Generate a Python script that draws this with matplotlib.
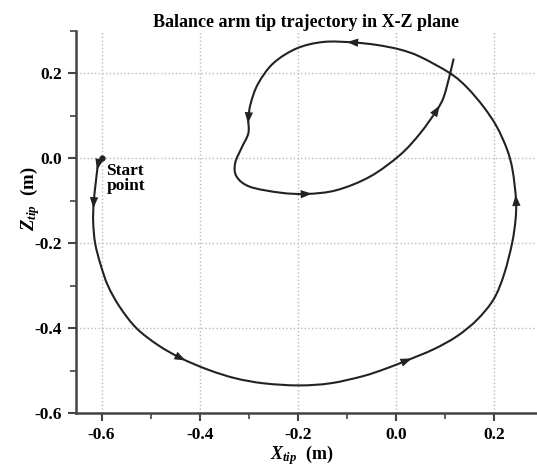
import matplotlib
matplotlib.use("Agg")
import matplotlib.pyplot as plt
import numpy as np
from matplotlib.path import Path
from matplotlib.patches import PathPatch, FancyArrowPatch
from matplotlib.ticker import MultipleLocator, FormatStrFormatter

# trajectory of the balance arm tip (m)
x_tip = [-0.600, -0.607, -0.612, -0.616, -0.617, -0.613, -0.602, -0.587,
         -0.563, -0.529, -0.485, -0.438, -0.383, -0.328, -0.270, -0.199,
         -0.134, -0.067, -0.020, 0.022, 0.076, 0.124, 0.165, 0.199,
         0.220, 0.236, 0.243, 0.244, 0.237, 0.226, 0.205, 0.178,
         0.144, 0.110, 0.049, 0.008, -0.040, -0.090, -0.148, -0.202,
         -0.250, -0.281, -0.296, -0.301, -0.301, -0.315, -0.328, -0.325,
         -0.298, -0.236, -0.182, -0.121, -0.053, 0.008, 0.049, 0.083,
         0.097, 0.110, 0.117]
z_tip = [0.000, -0.016, -0.060, -0.106, -0.150, -0.200, -0.250, -0.300,
         -0.350, -0.400, -0.440, -0.471, -0.498, -0.518, -0.530, -0.535,
         -0.530, -0.513, -0.495, -0.476, -0.450, -0.419, -0.380, -0.331,
         -0.272, -0.200, -0.145, -0.098, -0.028, 0.020, 0.074, 0.121,
         0.167, 0.200, 0.239, 0.256, 0.267, 0.273, 0.274, 0.259,
         0.224, 0.176, 0.130, 0.094, 0.059, 0.024, -0.012, -0.043,
         -0.067, -0.081, -0.084, -0.075, -0.043, 0.008, 0.059, 0.114,
         0.145, 0.200, 0.235]
# indices of the points where direction arrows sit
arrow_idx = [1, 3, 11, 19, 27, 37, 43, 50, 55]

x_ticks = [-0.6, -0.4, -0.2, 0.0, 0.2]
z_ticks = [-0.6, -0.4, -0.2, 0.0, 0.2]

plt.rcParams["font.family"] = ["Liberation Serif", "DejaVu Serif"]
plt.rcParams["font.weight"] = "bold"
plt.rcParams["axes.unicode_minus"] = False
plt.rcParams["mathtext.fontset"] = "custom"
plt.rcParams["mathtext.it"] = "Liberation Serif:italic:bold"
plt.rcParams["mathtext.rm"] = "Liberation Serif:bold"

fig = plt.figure(figsize=(5.37, 4.66), dpi=100)
ax = fig.add_axes([0.1415, 0.1137, 0.856, 0.82])
ax.set_xlim(-0.652, 0.284)
ax.set_ylim(-0.6, 0.3)

line_col = "#222222"

# smooth curve through the read points (Catmull-Rom as cubic Bezier segments)
pts = np.column_stack([x_tip, z_tip])
ext = np.vstack([pts[0], pts, pts[-1]])
verts = [pts[0]]
codes = [Path.MOVETO]
for k in range(len(pts) - 1):
    p0, p1, p2, p3 = ext[k], ext[k + 1], ext[k + 2], ext[k + 3]
    verts += [p1 + (p2 - p0) / 6, p2 - (p3 - p1) / 6, p2]
    codes += [Path.CURVE4] * 3
ax.add_patch(PathPatch(Path(verts, codes), fill=False, edgecolor=line_col,
                       lw=1.5, zorder=3))
ax.plot(x_tip[0], z_tip[0], "o", color=line_col, ms=3.5, zorder=4)

# direction arrows: tangent from neighbours, measured in pixels
to_px = ax.transData
to_data = ax.transData.inverted()
for i in arrow_idx:
    a = to_px.transform(pts[i - 1])
    b = to_px.transform(pts[i + 1])
    u = (b - a) / np.hypot(*(b - a))
    c = to_px.transform(pts[i])
    tip = to_data.transform(c + u * 5)
    tail = to_data.transform(c - u * 5)
    ax.add_patch(FancyArrowPatch(tail, tip,
                                 arrowstyle="-|>,head_length=0.8,head_width=0.3",
                                 mutation_scale=10, color=line_col, lw=0,
                                 shrinkA=0, shrinkB=0, zorder=5))

ax.text(-0.590, -0.010, "Start\npoint", fontsize=12.5, fontweight="bold",
        ha="left", va="top", linespacing=0.95)

ax.set_xticks(x_ticks)
ax.set_yticks(z_ticks)
ax.xaxis.set_minor_locator(MultipleLocator(0.1))
ax.yaxis.set_minor_locator(MultipleLocator(0.1))
ax.xaxis.set_major_formatter(FormatStrFormatter("%.1f"))
ax.yaxis.set_major_formatter(FormatStrFormatter("%.1f"))
ax.tick_params(which="major", direction="out", length=6, width=1.5,
               labelsize=12.5, pad=4, color="#444444")
ax.tick_params(which="minor", direction="out", length=4, width=1.2,
               color="#444444")

for side in ["top", "right"]:
    ax.spines[side].set_visible(False)
for side in ["left", "bottom"]:
    ax.spines[side].set_linewidth(1.8)
    ax.spines[side].set_color("#444444")

ax.grid(True, which="major", linestyle=":", color="#bbbbbb", lw=1.0)
ax.set_axisbelow(True)

ax.set_title("Balance arm tip trajectory in X-Z plane", fontsize=13,
             fontweight="bold", pad=3)
ax.set_xlabel(r"$X_{tip}$  (m)", fontsize=13, fontweight="bold")
ax.set_ylabel(r"$Z_{tip}$  (m)", fontsize=13.5, fontweight="bold")
ax.xaxis.set_label_coords(0.49, -0.078)
ax.yaxis.set_label_coords(-0.075, 0.56)

fig.savefig("out.png", dpi=100)
